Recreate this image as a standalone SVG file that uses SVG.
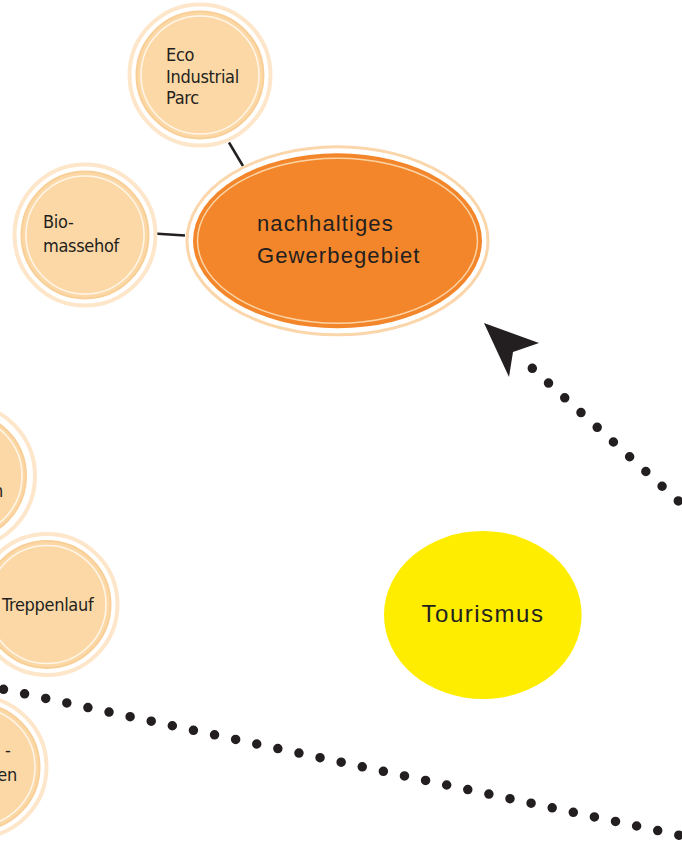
<svg xmlns="http://www.w3.org/2000/svg" width="682" height="841" viewBox="0 0 682 841">
<style>
.ring{fill:none;stroke:#fde6c9;stroke-width:4}
.disc{fill:#fcd8a6;stroke:#f9cf98;stroke-width:2}
.inner{fill:none;stroke:#fff6ea;stroke-width:1.5}
.lbl{font-family:"DejaVu Sans Condensed","Liberation Sans Narrow","DejaVu Sans",sans-serif;font-size:18px;fill:#231f20;letter-spacing:-0.3px}
.big{font-family:"Liberation Sans",Arial,sans-serif;fill:#231f20}
.dots{fill:none;stroke:#231f20;stroke-width:9.5;stroke-linecap:round}
.link{stroke:#231f20;stroke-width:2.5}
</style>
<rect width="682" height="841" fill="#ffffff"/>
<g id="connectors">
<line class="link" x1="154" y1="233.5" x2="185" y2="235.5"/>
<line class="link" x1="229" y1="142.5" x2="243" y2="166"/>
<path class="dots" d="M532.3,368.3 L700,520.7" stroke-dasharray="0 21.92"/>
<polygon points="484,323 539,343 513,352 509,377" fill="#231f20"/>
<path class="dots" d="M3.5,689.3 L700,839.7" stroke-dasharray="0 21.59"/>
</g>
<g id="node-eco">
<circle class="ring" cx="200" cy="75" r="70.5"/>
<circle class="disc" cx="200" cy="75" r="63.5"/>
<circle class="inner" cx="200" cy="75" r="59"/>
<text class="lbl" x="166" y="61">Eco</text>
<text class="lbl" x="166" y="82.5">Industrial</text>
<text class="lbl" x="166" y="104">Parc</text>
</g>
<g id="node-bio">
<circle class="ring" cx="85" cy="235" r="70.5"/>
<circle class="disc" cx="85" cy="235" r="63.5"/>
<circle class="inner" cx="85" cy="235" r="59"/>
<text class="lbl" x="43" y="228">Bio-</text>
<text class="lbl" x="43" y="252">massehof</text>
</g>
<g id="node-gewerbe">
<ellipse cx="337.5" cy="240.8" rx="150.5" ry="94" fill="none" stroke="#fcd6ab" stroke-width="3"/>
<ellipse cx="337.5" cy="240.8" rx="144.5" ry="87.5" fill="#f3862a"/>
<ellipse cx="337.5" cy="240.8" rx="140" ry="82.5" fill="none" stroke="#fcd3a5" stroke-width="1.5"/>
<text class="big" x="257" y="231" font-size="22" letter-spacing="1.1">nachhaltiges</text>
<text class="big" x="257" y="263" font-size="22" letter-spacing="1.1">Gewerbegebiet</text>
</g>
<g id="node-left-top">
<circle class="ring" cx="-38" cy="476" r="73"/>
<circle class="disc" cx="-38" cy="476" r="64"/>
<circle class="inner" cx="-38" cy="476" r="60"/>
<text class="lbl" x="3" y="497" text-anchor="end">n</text>
</g>
<g id="node-treppenlauf">
<circle class="ring" cx="47" cy="604.5" r="70.5"/>
<circle class="disc" cx="47" cy="604.5" r="63.5"/>
<circle class="inner" cx="47" cy="604.5" r="59"/>
<text class="lbl" x="2" y="611">Treppenlauf</text>
</g>
<g id="node-left-bottom">
<circle class="ring" cx="-24" cy="767" r="70.5"/>
<circle class="disc" cx="-24" cy="767" r="63.5"/>
<circle class="inner" cx="-24" cy="767" r="59"/>
<text class="lbl" x="5" y="756">-</text>
<text class="lbl" x="17" y="781" text-anchor="end">en</text>
</g>
<g id="node-tourismus">
<ellipse cx="482.8" cy="615" rx="98.8" ry="84" fill="#ffed00"/>
<text class="big" x="483" y="622" font-size="24" letter-spacing="1.5" text-anchor="middle">Tourismus</text>
</g>
</svg>
